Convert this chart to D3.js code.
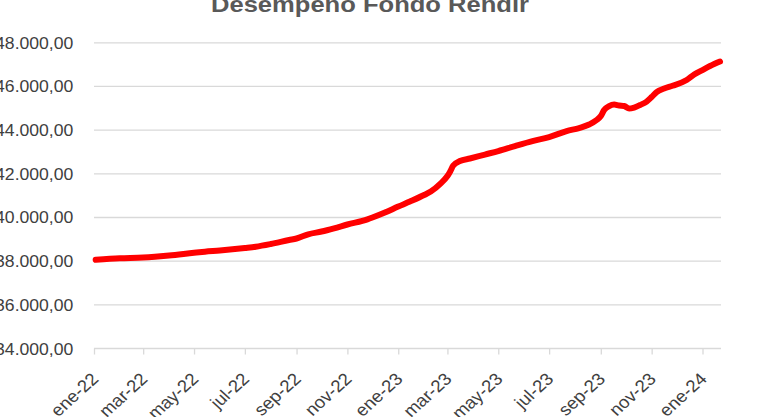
<!DOCTYPE html>
<html>
<head>
<meta charset="utf-8">
<script src="https://cdn.jsdelivr.net/npm/d3@7"></script>
<style>
  html, body { margin: 0; padding: 0; background: #ffffff; overflow: hidden; }
  svg { display: block; }
</style>
</head>
<body>
<svg id="chart" width="758" height="417"></svg>
<script>
// ---- data ----
const title = "Desempeño Fondo Rendir";
const dates = [
  "2022-01-03","2022-02-01","2022-03-01","2022-03-15","2022-04-01","2022-05-01","2022-05-14","2022-06-01",
  "2022-07-01","2022-07-14","2022-08-01","2022-08-23","2022-09-01","2022-09-15","2022-10-01","2022-10-16",
  "2022-11-01","2022-11-25","2022-12-01","2022-12-16","2023-01-01","2023-01-15","2023-02-01","2023-02-09",
  "2023-02-21","2023-03-01","2023-03-04","2023-03-08","2023-03-16","2023-03-28","2023-04-15","2023-05-01",
  "2023-05-21","2023-06-11","2023-07-01","2023-07-22","2023-08-06","2023-08-18","2023-08-27","2023-09-01",
  "2023-09-05","2023-09-11","2023-09-17","2023-09-23","2023-09-29","2023-10-05","2023-10-11","2023-10-18",
  "2023-10-26","2023-11-01","2023-11-07","2023-11-16","2023-11-26","2023-12-13","2023-12-22","2024-01-01",
  "2024-01-10","2024-01-22"
];
const values = [
  38066,38130,38167,38203,38258,38382,38432,38487,
  38602,38661,38785,38968,39037,39230,39357,39504,
  39678,39916,39998,40227,40502,40731,41028,41189,
  41564,41898,42081,42379,42585,42700,42883,43043,
  43272,43501,43684,43959,44096,44256,44462,44645,
  44920,45103,45172,45126,45103,44989,45035,45149,
  45310,45516,45745,45905,46033,46294,46545,46752,
  46935,47140
];
const yTicks = [34000, 36000, 38000, 40000, 42000, 44000, 46000, 48000];
const xTickDates = ["2022-01-01","2022-03-01","2022-05-01","2022-07-01","2022-09-01","2022-11-01",
  "2023-01-01","2023-03-01","2023-05-01","2023-07-01","2023-09-01","2023-11-01","2024-01-01"];
const xTickLabels = ["ene-22","mar-22","may-22","jul-22","sep-22","nov-22",
  "ene-23","mar-23","may-23","jul-23","sep-23","nov-23","ene-24"];

// ---- setup ----
const parse = d3.utcParse("%Y-%m-%d");
const data = dates.map((d, i) => ({ date: parse(d), value: values[i] }));
const svg = d3.select("#chart");
const SX = 1.1; // horizontal stretch of text glyphs
const FONT = "'Liberation Sans', Arial, sans-serif";

const x = d3.scaleUtc()
  .domain([parse("2022-01-01"), parse("2024-01-22")])
  .range([94, 720]);
const y = d3.scaleLinear()
  .domain([34000, 48000])
  .range([348.5, 42.8]);

const loc = d3.formatLocale({ decimal: ",", thousands: ".", grouping: [3], currency: ["$", ""] });
const fmt = loc.format(",.2f");

// title
svg.append("text")
  .attr("x", 370).attr("y", 12)
  .attr("text-anchor", "middle")
  .attr("font-family", FONT)
  .attr("font-weight", "bold")
  .attr("font-size", 22)
  .attr("fill", "#595959")
  .attr("textLength", 318)
  .attr("lengthAdjust", "spacingAndGlyphs")
  .text(title);

// gridlines
svg.append("g")
  .selectAll("line")
  .data(yTicks.filter(v => v !== 34000))
  .join("line")
  .attr("x1", 94).attr("x2", 721)
  .attr("y1", d => y(d)).attr("y2", d => y(d))
  .attr("stroke", "#d9d9d9")
  .attr("stroke-width", 1.3);

// y labels
svg.append("g")
  .selectAll("text")
  .data(yTicks)
  .join("text")
  .attr("transform", d => `translate(73.3, ${y(d) + 6}) scale(${SX},1)`)
  .attr("text-anchor", "end")
  .attr("font-family", FONT)
  .attr("font-size", 16)
  .attr("fill", "#404040")
  .text(d => fmt(d));

// x axis
const xAxis = d3.axisBottom(x)
  .tickValues(xTickDates.map(parse))
  .tickSize(6)
  .tickFormat((d, i) => xTickLabels[i]);
const gx = svg.append("g")
  .attr("transform", `translate(0, ${y(34000)})`)
  .call(xAxis);
gx.select(".domain").attr("stroke", "#d9d9d9").attr("stroke-width", 1.3)
  .attr("d", `M94,0H721`);
gx.selectAll(".tick line").attr("stroke", "#d9d9d9").attr("stroke-width", 1.3);
gx.selectAll(".tick text")
  .attr("font-family", FONT)
  .attr("font-size", 17)
  .attr("fill", "#404040")
  .attr("text-anchor", "end")
  .attr("dy", null)
  .attr("y", null)
  .attr("transform", `translate(5, 31.5) scale(${SX},1) rotate(-45)`);

// line
const line = d3.line()
  .x(d => x(d.date))
  .y(d => y(d.value))
  .curve(d3.curveMonotoneX);
svg.append("path")
  .datum(data)
  .attr("d", line)
  .attr("fill", "none")
  .attr("stroke", "#ff0000")
  .attr("stroke-width", 6)
  .attr("stroke-linejoin", "round")
  .attr("stroke-linecap", "round");
</script>
</body>
</html>
